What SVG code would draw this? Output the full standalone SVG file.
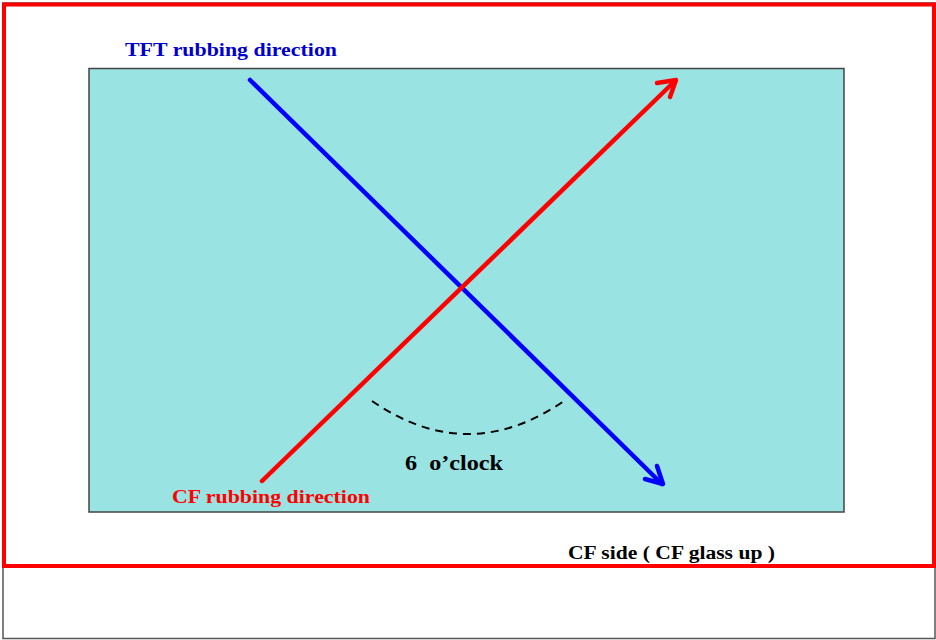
<svg xmlns="http://www.w3.org/2000/svg" width="936" height="640" viewBox="0 0 936 640">
<style>
.lbl{font-family:"Liberation Serif","Times New Roman",serif;font-weight:bold;}
.arrow{fill:none;stroke-width:4.5;stroke-linecap:round;stroke-linejoin:round;}
</style>
<rect x="0" y="0" width="936" height="640" fill="#ffffff"/>
<g id="outer-frame">
<rect x="3" y="3" width="932" height="635.5" fill="#ffffff" stroke="#555555" stroke-width="1.5"/>
</g>
<g id="red-frame">
<rect x="4" y="4.5" width="930" height="561.5" fill="none" stroke="#ff0000" stroke-width="4"/>
</g>
<g id="panel">
<rect x="89" y="68.5" width="755" height="443.5" fill="#99e3e3" stroke="#444444" stroke-width="1.5"/>
</g>
<g id="connectors">
<g id="tft-arrow" stroke="#0000ff" class="arrow">
<line x1="250" y1="80" x2="662" y2="484"/>
<polyline points="645,479 663,484 657,466"/>
</g>
<g id="cf-arrow" stroke="#ff0000" class="arrow">
<line x1="262" y1="481" x2="675" y2="81"/>
<polyline points="657,83 676,80 670,97"/>
</g>
<path id="angle-arc" d="M372,401 Q468,467 564,401" fill="none" stroke="#000000" stroke-width="2" stroke-dasharray="8,6"/>
</g>
<g id="tft-label">
<text class="lbl" x="125" y="56" font-size="19" fill="#0000cc" textLength="212" lengthAdjust="spacingAndGlyphs">TFT rubbing direction</text>
</g>
<g id="cf-label">
<text class="lbl" x="172" y="503" font-size="18" fill="#ff0000" textLength="198" lengthAdjust="spacingAndGlyphs">CF rubbing direction</text>
</g>
<g id="clock-label">
<text class="lbl" x="405" y="470" font-size="20" fill="#000000" xml:space="preserve" textLength="98" lengthAdjust="spacingAndGlyphs">6  o’clock</text>
</g>
<g id="side-label">
<text class="lbl" x="568" y="559" font-size="18" fill="#000000" textLength="207" lengthAdjust="spacingAndGlyphs">CF side ( CF glass up )</text>
</g>
</svg>
